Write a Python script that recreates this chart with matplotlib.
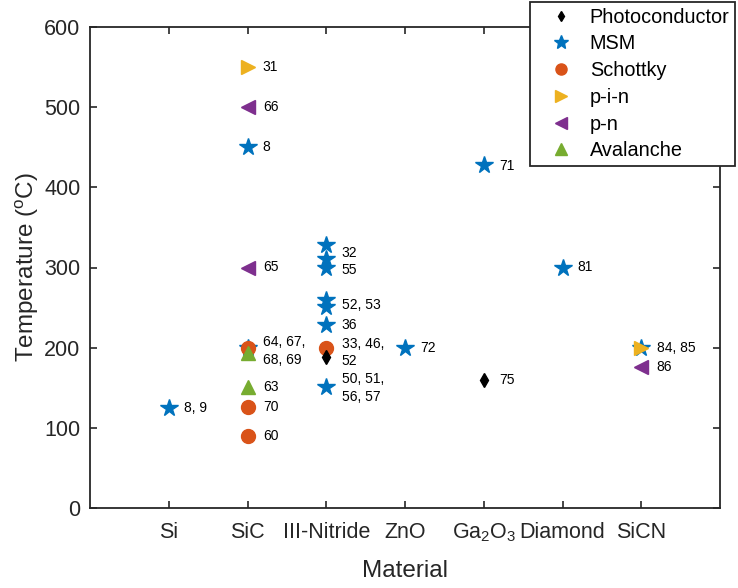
import matplotlib
matplotlib.use("Agg")
import matplotlib.pyplot as plt

plt.rcParams['font.family'] = ['Liberation Sans', 'DejaVu Sans']
plt.rcParams['mathtext.default'] = 'regular'

materials = ['Si', 'SiC', 'III-Nitride', 'ZnO', 'Ga$_2$O$_3$', 'Diamond', 'SiCN']

# series: (category index 1..7, temperature)
photo_x = [3, 5]
photo_y = [188, 160]
msm_x = [1, 2, 2, 3, 3, 3, 3, 3, 3, 3, 4, 5, 6, 7]
msm_y = [125, 450, 200, 328, 311, 300, 259, 251, 228, 151, 200, 428, 300, 200]
schottky_x = [2, 2, 2, 3]
schottky_y = [200, 126, 90, 200]
pin_x = [2, 7]
pin_y = [550, 200]
pn_x = [2, 2, 7]
pn_y = [500, 300, 176]
aval_x = [2, 2]
aval_y = [193, 151]

# reference labels: (category, y position, text)
label_x = [1, 2, 2, 2, 2, 2, 2, 2, 2,
           3, 3, 3, 3, 3, 3, 4, 5, 5, 6, 7, 7]
label_y = [125, 550, 500, 450, 300, 196, 151, 126, 90,
           318, 297, 253, 228, 194, 150, 200, 427, 160, 300, 200, 176]
label_txt = ['8, 9', '31', '66', '8', '65', '64, 67,\n68, 69', '63', '70', '60',
             '32', '55', '52, 53', '36', '33, 46,\n52', '50, 51,\n56, 57',
             '72', '71', '75', '81', '84, 85', '86']

fig = plt.figure(figsize=(7.38, 5.88), dpi=100)
ax = fig.add_axes([90/738, 1-508/588, (720-90)/738, (508-27)/588])

ms = 10
ax.plot(photo_x, photo_y, 'd', color='black', ms=7, label='Photoconductor', zorder=5)
ax.plot(msm_x, msm_y, '*', color='#0072BD', ms=13, label='MSM', zorder=3)
ax.plot(schottky_x, schottky_y, 'o', color='#D95319', ms=ms, label='Schottky', zorder=4)
ax.plot(pin_x, pin_y, '>', color='#EDB120', ms=ms, label='p-i-n', zorder=4)
ax.plot(pn_x, pn_y, '<', color='#7E2F8E', ms=ms, label='p-n', zorder=4)
ax.plot(aval_x, aval_y, '^', color='#77AC30', ms=ms, label='Avalanche', zorder=4)

for x, y, t in zip(label_x, label_y, label_txt):
    ax.annotate(t, (x, y), xytext=(11, 0), textcoords='offset points',
                ha='left', va='center', fontsize=10, color='#000000',
                linespacing=1.35)

ax.set_xlim(0, 8)
ax.set_ylim(0, 600)
ax.set_xticks(range(1, 8))
ax.set_xticklabels(materials)
ax.set_yticks(range(0, 601, 100))
ax.tick_params(axis='both', direction='in', labelsize=15.5, length=5, width=1.2,
               top=True, right=True, labelcolor='#262626', color='#262626')
ax.tick_params(axis='x', pad=10)
ax.tick_params(axis='y', pad=7)
for s in ax.spines.values():
    s.set_linewidth(1.3)
    s.set_color('#262626')
ax.set_xlabel('Material', fontsize=17.5, color='#262626', labelpad=11)
ax.set_ylabel('Temperature ($^o$C)', fontsize=17.5, color='#262626', labelpad=2)

leg = ax.legend(loc='upper right', bbox_to_anchor=(735/738, 1-2/588),
                bbox_transform=fig.transFigure, fontsize=14.3, frameon=True,
                fancybox=False, edgecolor='#262626', framealpha=1,
                borderaxespad=0, handletextpad=0.15, labelspacing=0.39,
                handlelength=2.6, markerscale=0.8, borderpad=0.28)
leg.get_frame().set_linewidth(1.3)
leg.set_zorder(10)

fig.savefig('out.png', dpi=100)
